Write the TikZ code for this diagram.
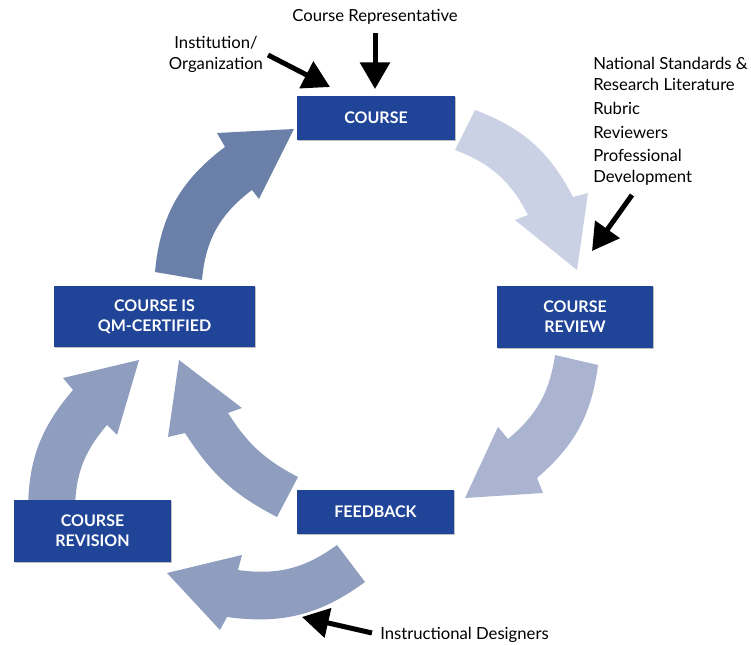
\documentclass[tikz,border=0pt]{standalone}
\usepackage{fontspec}
\setmainfont{Lato}
\usetikzlibrary{arrows.meta,shadows}
\definecolor{boxblue}{RGB}{31,68,152}
\definecolor{arA}{RGB}{203,209,228}
\definecolor{arB}{RGB}{170,180,208}
\definecolor{arC}{RGB}{143,158,191}
\definecolor{arD}{RGB}{107,128,168}
\tikzset{
  stagebox/.style={fill=boxblue, text=white, align=center, inner sep=0pt,
    font=\fontsize{12}{15}\selectfont\bfseries,
    drop shadow={shadow xshift=0.8pt,shadow yshift=-0.8pt,fill=black,opacity=0.25}},
  lbl/.style={inner sep=0pt, font=\fontsize{12.5}{15.75}\selectfont, text=black},
  blk/.style={line width=3.75pt, -{Triangle[length=20pt,width=22pt]}},
  band/.style={draw=none}
}
\begin{document}
\begin{tikzpicture}[x=0.75pt,y=0.75pt]
\useasboundingbox (0,0) rectangle (751,-645);
% curved block arrows
\fill[band,arA] (475,-110) to[bend left=21] (573,-197) -- (588,-193) -- (577,-270) -- (515,-220) -- (528,-215) to[bend right=21] (455,-150) -- cycle;
\fill[band,arB] (598,-365) to[bend left=21] (537,-478) -- (543,-493) -- (465,-498) -- (498,-427) -- (508,-439) to[bend right=21] (555,-355) -- cycle;
\fill[band,arC] (365,-582) to[bend left=22] (227,-617) -- (220,-630) -- (167,-573) -- (242,-555) -- (238,-570) to[bend right=22] (337,-545) -- cycle;
\fill[band,arC] (28,-510) to[bend left=20] (73,-390) -- (63,-378) -- (139,-360) -- (117,-435) -- (107,-425) to[bend right=20] (75,-510) -- cycle;
\fill[band,arC] (277,-517) to[bend left=15] (185,-433) -- (168,-437) -- (179,-360) -- (242,-408) -- (228,-413) to[bend right=15] (298,-477) -- cycle;
\fill[band,arD] (155,-272) to[bend left=24] (225,-147) -- (217,-133) -- (294,-129) -- (259,-199) -- (252,-190) to[bend right=24] (202,-280) -- cycle;
% stage boxes
\node[stagebox, minimum width=118.5pt, minimum height=33pt] (course) at (376,-118) {COURSE};
\node[stagebox, minimum width=117pt, minimum height=46.5pt] (review) at (575,-317) {COURSE\\REVIEW};
\node[stagebox, minimum width=117.75pt, minimum height=33pt] (feedback) at (375.5,-512) {FEEDBACK};
\node[stagebox, minimum width=117.75pt, minimum height=46.5pt] (revision) at (92.5,-531) {COURSE\\REVISION};
\node[stagebox, minimum width=150.75pt, minimum height=45.75pt] (qm) at (154.5,-316.5) {COURSE IS\\QM-CERTIFIED};
% labels
\node[lbl] (rep) at (375,-17) {Course Representative};
\node[lbl, align=center] (inst) at (216,-54) {Institution/\\Organization};
\node[lbl, anchor=west, align=left] (nat) at (593,-73.5) {National Standards \&\\Research Literature};
\node[lbl, anchor=west] (rub) at (593,-108) {Rubric};
\node[lbl, anchor=west] (revw) at (593,-132) {Reviewers};
\node[lbl, anchor=west, align=left] (prof) at (593,-167) {Professional\\Development};
\node[lbl, anchor=west] (instr) at (380,-635) {Instructional Designers};
% black arrows
\coordinate (repT) at (375,-33);
\coordinate (repH) at (375,-89);
\coordinate (instT) at (268,-55);
\coordinate (instH) at (330,-87);
\coordinate (profT) at (632,-195);
\coordinate (profH) at (592,-251);
\coordinate (idT) at (372,-633);
\coordinate (idH) at (302,-617);
\draw[blk] (repT) -- (repH);
\draw[blk] (instT) -- (instH);
\draw[blk] (profT) -- (profH);
\draw[blk] (idT) -- (idH);
\end{tikzpicture}
\end{document}
